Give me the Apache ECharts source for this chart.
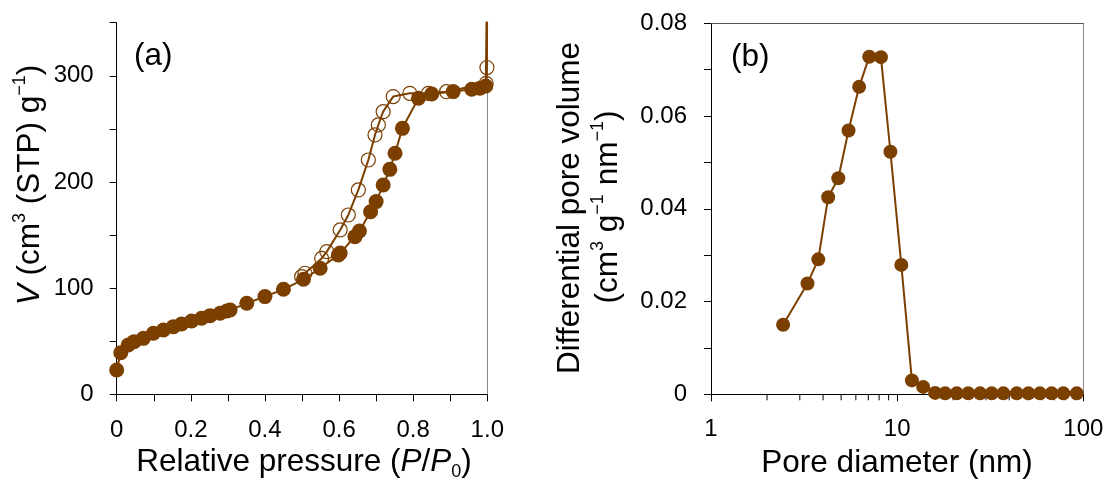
<!DOCTYPE html>
<html><head><meta charset="utf-8">
<script src="https://cdn.jsdelivr.net/npm/echarts@6/dist/echarts.min.js"></script>
<style>html,body{margin:0;padding:0;background:#fff}#c{width:1110px;height:487px}</style>
</head><body><div id="c"></div>
<script>
// ---- Panel (a): N2 isotherm ----
const adsP = [0.000,0.011,0.031,0.047,0.072,0.099,0.126,0.153,0.175,0.202,0.229,0.252,0.279,0.297,0.306,0.351,0.400,0.450,0.504,0.549,0.598,0.603,0.643,0.655,0.685,0.700,0.719,0.737,0.751,0.771,0.814,0.850,0.908,0.958,0.980,0.996,1.000];
const adsV = [22.9,39.2,46.5,49.6,52.7,57.5,60.6,63.7,66.2,69.1,71.6,74.1,76.3,78.5,79.4,85.7,92.0,98.9,108.3,118.7,131.2,133.0,148.5,153.8,172.0,181.5,197.2,211.9,227.0,250.5,278.8,282.9,285.1,287.3,288.2,290.4,420];
const desP = [1.000,0.999,0.997,0.890,0.841,0.791,0.746,0.719,0.706,0.697,0.679,0.652,0.625,0.603,0.567,0.553,0.508,0.499];
const desV = [420,307.8,292.9,285.0,283.5,283.5,280.4,266.2,253.7,244.3,220.7,192.5,168.9,154.8,134.4,128.0,114.0,110.8];
// ---- Panel (b): pore size distribution ----
const poreD = [2.44,3.30,3.77,4.26,4.83,5.48,6.25,7.08,8.18,9.20,10.53,12.0,13.8,16.0,18.1,20.9,24.1,27.9,32.2,37.2,43.9,50.7,58.5,67.6,78.1,92.2];
const poreV = [0.0150,0.0239,0.0291,0.0425,0.0466,0.0569,0.0663,0.0728,0.0727,0.0523,0.0279,0.0030,0.0016,0.0003,0.0002,0.0002,0.0002,0.0002,0.0002,0.0002,0.0002,0.0002,0.0002,0.0002,0.0002,0.0002];
const logMinorTicks = [2,3,4,5,6,7,8,9,20,30,40,50,60,70,80,90];

const BROWN = '#7b3f00';
const FONT = '"Liberation Sans", Arial, Helvetica, sans-serif';
const TICK_FS = 24, TITLE_FS = 31.5, SUP_FS = 18;

const chart = echarts.init(document.getElementById('c'), null, {renderer: 'canvas'});
const pairs = (xs, ys) => xs.map((x, i) => [x, ys[i]]);

const lbl = (fmt, extra) => Object.assign({fontSize: TICK_FS, fontFamily: FONT, color: '#000', formatter: fmt}, extra || {});
const mainLine = {show: true, onZero: false, lineStyle: {color: '#000', width: 1}};
const tick = {show: true, inside: false, length: 7, lineStyle: {color: '#000', width: 1}};

const rich = {
  n: {fontSize: TITLE_FS, lineHeight: 38, fontFamily: FONT, fill: '#000', color: '#000'},
  i: {fontSize: TITLE_FS, lineHeight: 38, fontFamily: FONT, fontStyle: 'italic', fill: '#000', color: '#000'},
  s: {fontSize: SUP_FS, lineHeight: SUP_FS, fontFamily: FONT, verticalAlign: 'top', fill: '#000', color: '#000'},
  b: {fontSize: SUP_FS, lineHeight: SUP_FS, fontFamily: FONT, verticalAlign: 'bottom', fill: '#000', color: '#000'}
};
const txt = (x, y, text, rot, align) => ({
  type: 'text', x: x, y: y, rotation: rot || 0, silent: true,
  style: {text: text, rich: rich, fontSize: TITLE_FS, fontFamily: FONT, fill: '#000',
          align: align || 'center', verticalAlign: 'middle'}
});

const option = {
  animation: false,
  backgroundColor: '#fff',
  grid: [
    {left: 116.7, top: 22.7, width: 370.6, height: 371.6},
    {left: 711, top: 23.3, width: 372.3, height: 371}
  ],
  xAxis: [
    {gridIndex: 0, type: 'value', min: 0, max: 1, interval: 0.1,
     axisLine: mainLine, axisTick: tick, splitLine: {show: false},
     axisLabel: lbl(v => { const k = Math.round(v * 10); return k % 2 === 0 ? (k === 0 ? '0' : (k / 10).toFixed(1)) : ''; }, {margin: 24})},
    {gridIndex: 1, type: 'log', logBase: 10, min: 1, max: 100,
     axisLine: mainLine, axisTick: tick, splitLine: {show: false}, minorTick: {show: false},
     axisLabel: lbl(v => String(v), {margin: 23})},
    {gridIndex: 1, type: 'log', logBase: 10, min: 1, max: 100, position: 'top',
     axisLine: {show: true, onZero: false, lineStyle: {color: '#555', width: 1}},
     axisTick: {show: false}, axisLabel: {show: false}, splitLine: {show: false}}
  ],
  yAxis: [
    {gridIndex: 0, type: 'value', min: 0, max: 350, interval: 50,
     axisLine: mainLine, axisTick: tick, splitLine: {show: false},
     axisLabel: lbl(v => (v % 100 === 0 && v <= 300) ? String(v) : '', {margin: 23})},
    {gridIndex: 0, type: 'value', min: 0, max: 350, position: 'right',
     axisLine: {show: true, onZero: false, lineStyle: {color: '#8a8a8a', width: 1}},
     axisTick: {show: false}, axisLabel: {show: false}, splitLine: {show: false}},
    {gridIndex: 1, type: 'value', min: 0, max: 0.08, interval: 0.01,
     axisLine: mainLine, axisTick: tick, splitLine: {show: false},
     axisLabel: lbl(v => { const k = Math.round(v * 100); return k % 2 === 0 ? (k === 0 ? '0' : (k / 100).toFixed(2)) : ''; }, {margin: 24})},
    {gridIndex: 1, type: 'value', min: 0, max: 0.08, position: 'right',
     axisLine: {show: true, onZero: false, lineStyle: {color: '#8a8a8a', width: 1}},
     axisTick: {show: false}, axisLabel: {show: false}, splitLine: {show: false}}
  ],
  series: [
    {type: 'custom', xAxisIndex: 1, yAxisIndex: 2, clip: false, silent: true, z: 1,
     data: logMinorTicks.map(v => [v, 0]),
     renderItem: (params, api) => {
       const p = api.coord([api.value(0), 0]);
       return {type: 'line', shape: {x1: p[0], y1: p[1], x2: p[0], y2: p[1] + 6},
               style: {stroke: '#000', lineWidth: 1}};
     }},
    {type: 'line', name: 'Adsorption', xAxisIndex: 0, yAxisIndex: 0, data: pairs(adsP, adsV),
     clip: true, symbol: 'circle', symbolSize: 15, z: 3,
     itemStyle: {color: BROWN}, lineStyle: {color: BROWN, width: 2}},
    {type: 'line', name: 'Desorption', xAxisIndex: 0, yAxisIndex: 0, data: pairs(desP, desV),
     clip: true, symbol: 'circle', symbolSize: 14, z: 4,
     itemStyle: {color: 'rgba(255,255,255,0)', borderColor: BROWN, borderWidth: 1.2},
     lineStyle: {color: BROWN, width: 2}},
    {type: 'line', name: 'PSD', xAxisIndex: 1, yAxisIndex: 2, data: pairs(poreD, poreV),
     clip: false, symbol: 'circle', symbolSize: 14, z: 3,
     itemStyle: {color: BROWN}, lineStyle: {color: BROWN, width: 2}}
  ],
  graphic: [
    txt(134, 56, '{n|(a)}', 0, 'left'),
    txt(731, 57, '{n|(b)}', 0, 'left'),
    txt(304, 462, '{n|Relative pressure (}{i|P}{n|/}{i|P}{b|0}{n|)}'),
    txt(897, 463, '{n|Pore diameter (nm)}'),
    txt(30, 185, '{i|V}{n| (cm}{s|3}{n| (STP) g}{s|−1}{n|)}', Math.PI / 2),
    txt(570, 208, '{n|Differential pore volume}', Math.PI / 2),
    txt(608, 207, '{n|(cm}{s|3}{n| g}{s|−1}{n| nm}{s|−1}{n|)}', Math.PI / 2)
  ]
};
chart.setOption(option);
</script>
</body></html>
